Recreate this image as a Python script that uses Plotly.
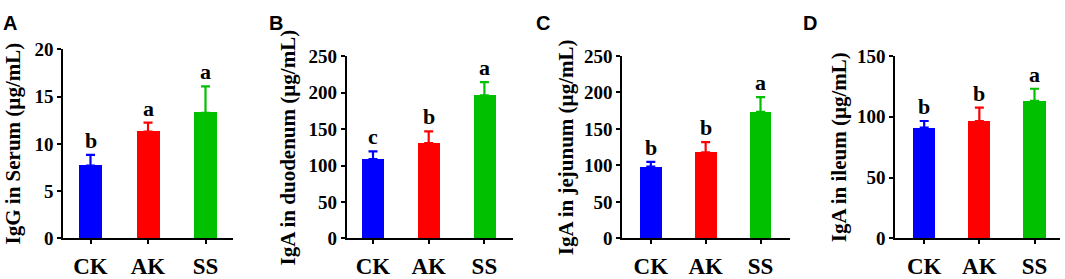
import plotly.graph_objects as go

W, H = 1065, 279

groups = ["CK", "AK", "SS"]
colors = ["#0000ff", "#ff0000", "#00c000"]

panel_letters = ["A", "B", "C", "D"]
y_titles = ["IgG in Serum (µg/mL)", "IgA in duodenum (µg/mL)",
            "IgA in jejunum (µg/mL)", "IgA in ileum (µg/mL)"]

serum_igg = [7.7, 11.3, 13.3]
serum_igg_err = [1.15, 0.95, 2.8]
duodenum_iga = [109, 131, 196.5]
duodenum_iga_err = [10.5, 16, 18]
jejunum_iga = [98.5, 118, 173.5]
jejunum_iga_err = [6.5, 14, 20]
ileum_iga = [91, 96.5, 113]
ileum_iga_err = [5.5, 11, 10]

sig_serum = ["b", "a", "a"]
sig_duodenum = ["c", "b", "a"]
sig_jejunum = ["b", "b", "a"]
sig_ileum = ["b", "b", "a"]

y_max = [20, 250, 250, 150]
y_dtick = [5, 50, 50, 50]

values = [serum_igg, duodenum_iga, jejunum_iga, ileum_iga]
errors = [serum_igg_err, duodenum_iga_err, jejunum_iga_err, ileum_iga_err]
sigs = [sig_serum, sig_duodenum, sig_jejunum, sig_ileum]

# layout geometry in pixels
axis_left = [63, 346.7, 622, 895]
axis_right = [233, 513, 790, 1060]
first_center = [90.5, 373, 650.8, 924.2]
spacing = [57.5, 55.7, 54.85, 55.15]
y_top_px = [43, 50.5, 50, 50]
y_bottom_px = 249
title_x_px = [12.5, 288, 566, 839]
letter_x_px = [1, 267, 534, 801]

def px_x(p):
    return p / W

def px_y(p):
    return 1 - p / H

serif = "Liberation Serif"
fig = go.Figure()

for i in range(4):
    ax = "" if i == 0 else str(i + 1)
    fig.add_trace(go.Bar(
        x=groups, y=values[i],
        marker=dict(color=colors, line=dict(width=0)),
        width=0.4,
        xaxis="x" + ax, yaxis="y" + ax, showlegend=False,
    ))
    for j in range(3):
        fig.add_trace(go.Scatter(
            x=[groups[j]], y=[values[i][j]], mode="markers",
            marker=dict(size=0.1, color=colors[j], opacity=0),
            error_y=dict(type="data", array=[errors[i][j]], arrayminus=[0],
                         symmetric=False, color=colors[j], thickness=2.2, width=4.5),
            xaxis="x" + ax, yaxis="y" + ax, showlegend=False, hoverinfo="skip",
        ))
        fig.add_annotation(
            x=groups[j], y=values[i][j] + errors[i][j], xref="x" + ax, yref="y" + ax,
            text="<b>%s</b>" % sigs[i][j], showarrow=False, yanchor="bottom",
            yshift=0, font=dict(family=serif, size=22, color="black"),
        )
    r0 = (axis_left[i] - first_center[i]) / spacing[i]
    r1 = (axis_right[i] - first_center[i]) / spacing[i]
    fig.update_layout(**{
        "xaxis" + ax: dict(
            domain=[px_x(axis_left[i]), px_x(axis_right[i])],
            range=[r0, r1], anchor="y" + ax, showline=True, linecolor="black",
            linewidth=1.6, ticks="outside", ticklen=4, tickwidth=1.6, tickcolor="black",
            tickfont=dict(family=serif, size=23, color="black"), showgrid=False,
            zeroline=False, fixedrange=True, ticklabelstandoff=2,
            tickvals=groups, ticktext=["<b>%s</b>" % g for g in groups],
        ),
        "yaxis" + ax: dict(
            domain=[px_y(y_bottom_px), px_y(y_top_px[i])],
            range=[0, y_max[i]], dtick=y_dtick[i], anchor="x" + ax,
            showline=True, linecolor="black", linewidth=1.6, ticks="outside",
            ticklen=4, tickwidth=1.6, tickcolor="black", showgrid=False, zeroline=False,
            tickfont=dict(family=serif, size=19, color="black"), tickprefix="<b>",
            ticksuffix="</b>", fixedrange=True,
        ),
    })
    fig.add_annotation(
        x=px_x(title_x_px[i]), y=px_y((y_top_px[i] + y_bottom_px) / 2),
        xref="paper", yref="paper", text="<b>%s</b>" % y_titles[i], textangle=-90,
        showarrow=False, xanchor="center", yanchor="middle",
        font=dict(family=serif, size=21, color="black"),
    )
    fig.add_annotation(
        x=px_x(letter_x_px[i]), y=px_y(0), xref="paper", yref="paper",
        text="<b>%s</b>" % panel_letters[i], showarrow=False,
        xanchor="left", yanchor="top",
        font=dict(family="Liberation Sans", size=20, color="black"),
    )

fig.update_layout(
    width=W, height=H, margin=dict(l=0, r=0, t=0, b=0),
    paper_bgcolor="white", plot_bgcolor="white", bargap=0,
)

fig.write_html("out.html", config={"displayModeBar": False},
               post_script="document.body.style.margin='0px';document.body.style.padding='0px';")
